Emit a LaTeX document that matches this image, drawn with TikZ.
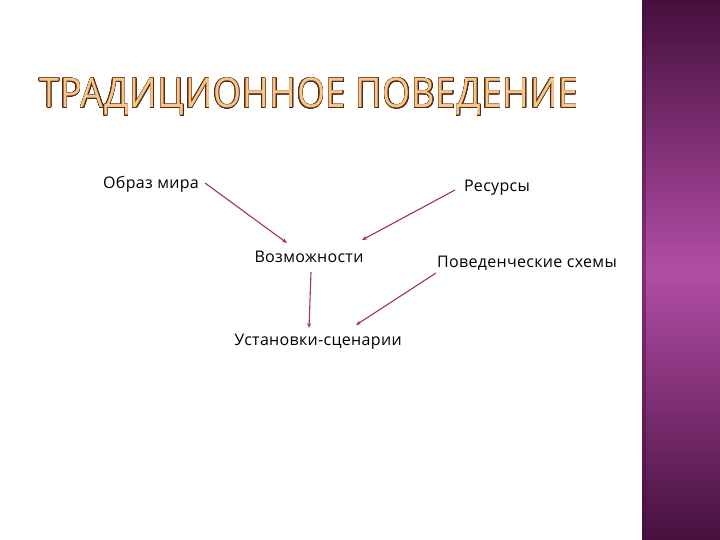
\documentclass[tikz,border=0pt]{standalone}
\usepackage{fontspec}
\setmainfont{Open Sans}
\newfontfamily\titlefont[LetterSpace=2]{Open Sans}
\newfontfamily\labelfont[LetterSpace=2]{Open Sans}
\usepackage{contour}
\contourlength{0.6pt}
\contournumber{24}
\usetikzlibrary{arrows.meta}
\definecolor{arrowred}{HTML}{A03456}
\definecolor{titlefill}{HTML}{F5C68A}
\definecolor{titleedge}{HTML}{5A2812}
\definecolor{bardark}{HTML}{46103E}
\definecolor{barlight}{HTML}{B24DA6}

\tikzset{
  label/.style={font=\labelfont\fontsize{16}{18}\selectfont, inner sep=1pt},
  link/.style={draw=arrowred, line width=1.1pt, -{Stealth[length=5pt,width=4pt]}},
}

\begin{document}
\begin{tikzpicture}[x=1pt,y=-1pt]
  \useasboundingbox (0,0) rectangle (720,540);
  \fill[white] (0,0) rectangle (720,540);

  % side bar
  \shade[top color=bardark, bottom color=bardark, middle color=barlight]
    (642,0) rectangle (720,540);
  \fill[bardark, opacity=0.45] (642,0) rectangle (646,540);

  % title
  \node (title) at (309,97)
    {\scalebox{0.88}[1]{\titlefont\fontsize{41}{48}\selectfont\contour{titleedge}{\textcolor{titlefill}{ТРАДИЦИОННОЕ ПОВЕДЕНИЕ}}}};

  \node[label] (obraz) at (151,184) {Образ мира};
  \node[label] (resursy) at (497,188) {Ресурсы};
  \node[label] (vozm) at (309,257) {Возможности};
  \node[label] (povsh) at (527,263) {Поведенческие схемы};
  \node[label] (ustan) at (318,342) {Установки-сценарии};

  % arrow ends
  \coordinate (a1) at (205,183);
  \coordinate (b1) at (287,243);
  \coordinate (a2) at (455,190);
  \coordinate (b2) at (362,240);
  \coordinate (a3) at (311,272);
  \coordinate (b3) at (309,328);
  \coordinate (a4) at (436,273);
  \coordinate (b4) at (356,325);

  \draw[link] (a1) -- (b1);
  \draw[link] (a2) -- (b2);
  \draw[link] (a3) -- (b3);
  \draw[link] (a4) -- (b4);
\end{tikzpicture}
\end{document}
